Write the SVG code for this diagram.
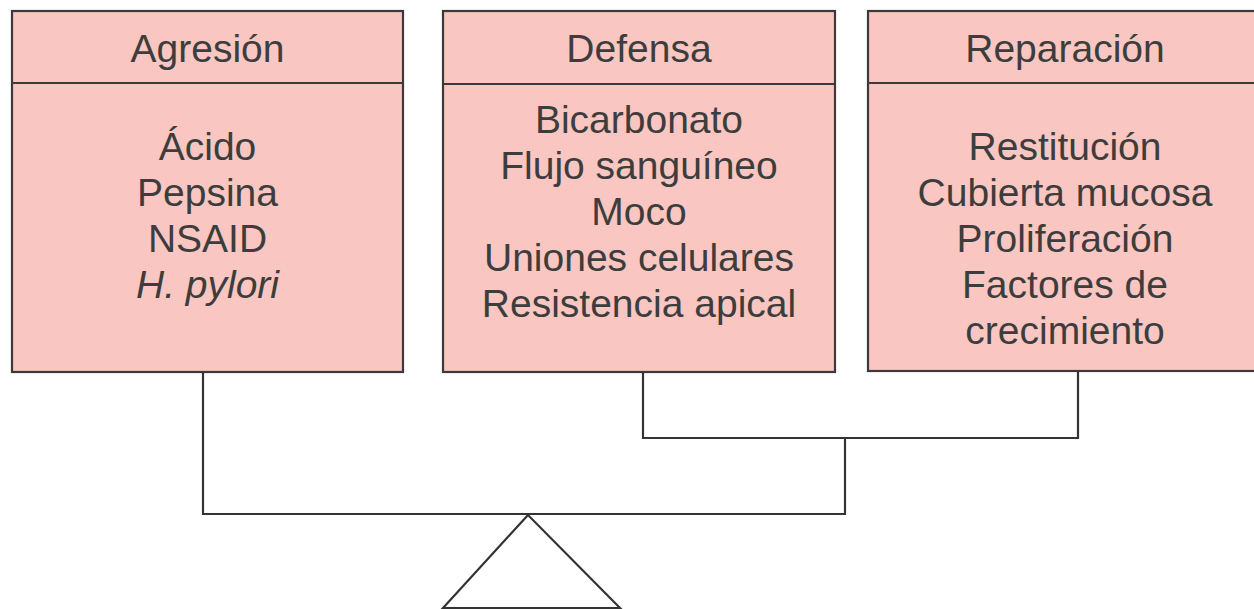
<svg xmlns="http://www.w3.org/2000/svg" width="1254" height="609" viewBox="0 0 1254 609">
<style>
.box{fill:#f9c6c1;stroke:#3a3a3a;stroke-width:2.2}
.div{stroke:#3a3a3a;stroke-width:2.2}
.t{font-family:"Liberation Sans",Arial,sans-serif;font-size:39px;fill:#3d3d3d;text-anchor:middle}
.it{font-style:italic}
.c{fill:none;stroke:#333;stroke-width:2.2}
</style>
<rect width="1254" height="609" fill="#fff"/>
<g id="agresion">
<rect class="box" x="12" y="11" width="391" height="361"/>
<line class="div" x1="12" y1="83" x2="403" y2="83"/>
<text class="t" x="207.5" y="62">Agresión</text>
<text class="t" x="207.5" y="160">Ácido</text>
<text class="t" x="207.5" y="206">Pepsina</text>
<text class="t" x="207.5" y="252">NSAID</text>
<text class="t it" x="207.5" y="298">H. pylori</text>
</g>
<g id="defensa">
<rect class="box" x="443" y="11" width="392" height="361"/>
<line class="div" x1="443" y1="84" x2="835" y2="84"/>
<text class="t" x="639" y="62">Defensa</text>
<text class="t" x="639" y="133">Bicarbonato</text>
<text class="t" x="639" y="179">Flujo sanguíneo</text>
<text class="t" x="639" y="225">Moco</text>
<text class="t" x="639" y="271">Uniones celulares</text>
<text class="t" x="639" y="317">Resistencia apical</text>
</g>
<g id="reparacion">
<rect class="box" x="868" y="11" width="394" height="360"/>
<line class="div" x1="868" y1="83" x2="1262" y2="83"/>
<text class="t" x="1065" y="62">Reparación</text>
<text class="t" x="1065" y="160">Restitución</text>
<text class="t" x="1065" y="206">Cubierta mucosa</text>
<text class="t" x="1065" y="252">Proliferación</text>
<text class="t" x="1065" y="298">Factores de</text>
<text class="t" x="1065" y="344">crecimiento</text>
</g>
<g id="connectors">
<polyline class="c" points="643,372 643,438 1078,438 1078,371"/>
<polyline class="c" points="203,372 203,514 845,514 845,438"/>
<polygon id="fulcrum" class="c" points="528,515 443,608 620,608"/>
</g>
</svg>
